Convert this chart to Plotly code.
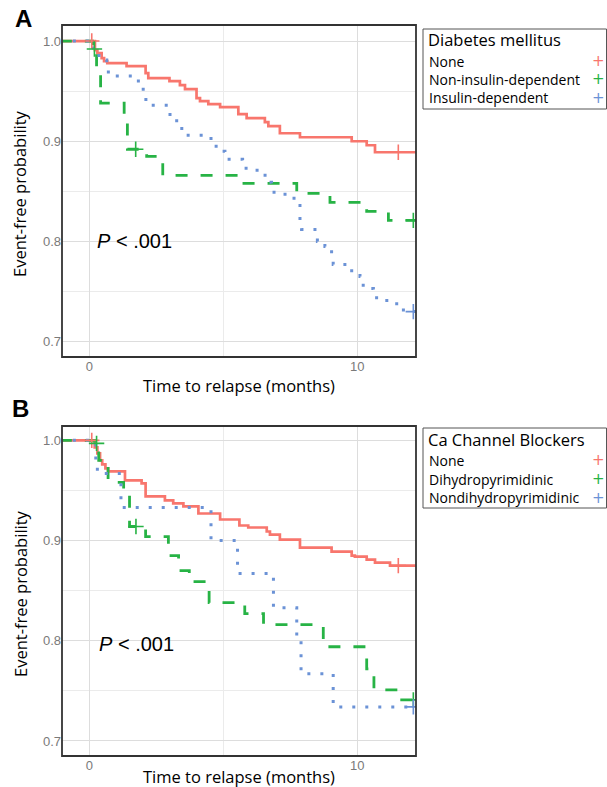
import plotly.graph_objects as go

# ---------------- data ----------------
# Panel A: Diabetes mellitus
A_none_t = [-1.1, 0.21, 0.30, 0.46, 0.55, 0.67, 1.39, 2.10, 2.20, 2.99, 3.38, 3.57, 4.00, 4.13, 4.44, 4.88,
            5.56, 5.87, 6.55, 6.68, 7.11, 7.86, 9.79, 10.35, 10.66, 12.3]
A_none_s = [1.0, 0.991, 0.988, 0.983, 0.980, 0.978, 0.975, 0.968, 0.963, 0.960, 0.956, 0.952, 0.943, 0.940,
            0.937, 0.934, 0.927, 0.923, 0.919, 0.915, 0.908, 0.904, 0.900, 0.896, 0.889, 0.889]
A_none_ct = [0.09, 11.53]
A_none_cs = [1.0, 0.889]

A_nid_t = [-1.1, 0.12, 0.27, 0.42, 1.30, 1.42, 2.14, 2.74, 5.62, 7.74, 8.98, 10.35, 11.16, 12.3]
A_nid_s = [1.0, 0.992, 0.972, 0.938, 0.920, 0.892, 0.885, 0.866, 0.858, 0.848, 0.839, 0.830, 0.821, 0.821]
A_nid_ct = [0.19, 1.73, 12.09]
A_nid_cs = [0.992, 0.892, 0.821]

A_id_t = [-1.1, 0.15, 0.36, 0.65, 0.71, 1.83, 2.01, 2.11, 3.01, 3.26, 3.45, 4.54, 4.88, 5.06, 5.72, 6.12,
          6.43, 6.68, 6.80, 7.24, 7.55, 7.80, 7.86, 7.92, 8.51, 8.79, 9.04, 9.10, 9.79, 10.10, 10.22, 10.60,
          10.72, 11.47, 11.72, 12.3]
A_id_s = [1.0, 0.990, 0.981, 0.977, 0.965, 0.958, 0.947, 0.936, 0.925, 0.917, 0.906, 0.895, 0.890, 0.882,
          0.873, 0.871, 0.866, 0.859, 0.849, 0.847, 0.843, 0.836, 0.823, 0.812, 0.800, 0.795, 0.788, 0.777,
          0.769, 0.765, 0.753, 0.751, 0.741, 0.734, 0.730, 0.730]
A_id_ct = [12.09]
A_id_cs = [0.730]

# Panel B: Ca channel blockers
B_none_t = [-1.1, 0.20, 0.30, 0.40, 0.48, 0.60, 0.70, 1.33, 1.95, 2.10, 2.82, 3.13, 3.51, 4.07, 4.88, 5.60,
            5.93, 6.62, 6.74, 7.11, 7.86, 9.04, 9.79, 9.91, 10.35, 10.66, 11.22, 12.3]
B_none_s = [1.0, 0.993, 0.987, 0.980, 0.976, 0.972, 0.969, 0.960, 0.957, 0.944, 0.940, 0.937, 0.934, 0.927,
            0.921, 0.915, 0.913, 0.909, 0.906, 0.901, 0.893, 0.889, 0.885, 0.884, 0.881, 0.878, 0.875, 0.875]
B_none_ct = [0.09, 11.53]
B_none_cs = [1.0, 0.875]

B_dhp_t = [-1.1, 0.20, 0.35, 0.70, 1.28, 1.50, 2.10, 2.95, 3.33, 3.73, 4.47, 5.80, 6.50, 8.73, 10.35, 10.62,
           11.50, 12.3]
B_dhp_s = [1.0, 0.997, 0.980, 0.958, 0.948, 0.914, 0.904, 0.885, 0.870, 0.859, 0.838, 0.827, 0.816, 0.794,
           0.772, 0.751, 0.741, 0.741]
B_dhp_ct = [0.27, 1.74, 12.09]
B_dhp_cs = [0.997, 0.914, 0.741]

B_ndhp_t = [-1.1, 0.24, 0.30, 1.18, 4.54, 5.53, 6.87, 7.74, 7.90, 9.10, 12.3]
B_ndhp_s = [1.0, 0.978, 0.967, 0.933, 0.900, 0.867, 0.833, 0.800, 0.767, 0.734, 0.734]
B_ndhp_ct = [12.09]
B_ndhp_cs = [0.734]

A_labels = ["None", "Non-insulin-dependent", "Insulin-dependent"]
B_labels = ["None", "Dihydropyrimidinic", "Nondihydropyrimidinic"]
A_title = "Diabetes mellitus"
B_title = "Ca Channel Blockers"
x_title = "Time to relapse (months)"
y_title = "Event-free probability"
p_text = "<i>P</i> < .001"

# ---------------- styling ----------------
W, H = 607, 787
COLORS = ["#F8766D", "#27B345", "#6B92D6"]
DASHES = ["solid", "12px,13px", "3px,10px"]
WIDTHS = [2.7, 2.8, 3.0]
TITLE_FONT = "Open Sans"
TICK_FONT = "Liberation Sans, Arial"

def px(x):
    return x / W

def py(y):
    return 1 - y / H

fig = go.Figure()

panels = [
    ("x", "y", [(A_none_t, A_none_s, A_none_ct, A_none_cs),
                (A_nid_t, A_nid_s, A_nid_ct, A_nid_cs),
                (A_id_t, A_id_s, A_id_ct, A_id_cs)]),
    ("x2", "y2", [(B_none_t, B_none_s, B_none_ct, B_none_cs),
                  (B_dhp_t, B_dhp_s, B_dhp_ct, B_dhp_cs),
                  (B_ndhp_t, B_ndhp_s, B_ndhp_ct, B_ndhp_cs)]),
]

for xa, ya, series in panels:
    for i, (t, s, ct, cs) in enumerate(series):
        fig.add_trace(go.Scatter(
            x=t, y=s, mode="lines", xaxis=xa, yaxis=ya,
            line=dict(color=COLORS[i], width=WIDTHS[i], dash=DASHES[i], shape="hv"),
            showlegend=False, hoverinfo="skip"))
    for i, (t, s, ct, cs) in enumerate(series):
        fig.add_trace(go.Scatter(
            x=ct, y=cs, mode="markers", xaxis=xa, yaxis=ya,
            marker=dict(symbol="cross-thin", size=11, line=dict(color=COLORS[i], width=1.6)),
            showlegend=False, hoverinfo="skip"))

# plot areas (pixels)
A_box = (62, 416, 25, 357)
B_box = (62, 416, 426, 756)

xr = [-1.02, 12.19]
axis_common = dict(
    showgrid=True, gridcolor="#DDDDDD", gridwidth=1.1, zeroline=False, showline=False,
    ticks="", tickfont=dict(family=TICK_FONT, size=13, color="#7A7A7A"), automargin=False,
)

fig.update_layout(
    width=W, height=H, margin=dict(l=0, r=0, t=0, b=0),
    paper_bgcolor="white", plot_bgcolor="white", showlegend=False,
    xaxis=dict(domain=[px(A_box[0]), px(A_box[1])], range=xr, anchor="y",
               tick0=0, dtick=10, minor=dict(dtick=5, showgrid=True, gridcolor="#EBEBEB", gridwidth=0.8),
               **axis_common),
    yaxis=dict(domain=[py(A_box[3]), py(A_box[2])], range=[0.6847, 1.016], anchor="x",
               tick0=0, dtick=0.1, tickformat=".1f",
               minor=dict(dtick=0.05, tick0=0, showgrid=True, gridcolor="#EBEBEB", gridwidth=0.8),
               **axis_common),
    xaxis2=dict(domain=[px(B_box[0]), px(B_box[1])], range=xr, anchor="y2",
                tick0=0, dtick=10, minor=dict(dtick=5, showgrid=True, gridcolor="#EBEBEB", gridwidth=0.8),
                **axis_common),
    yaxis2=dict(domain=[py(B_box[3]), py(B_box[2])], range=[0.685, 1.0143], anchor="x2",
                tick0=0, dtick=0.1, tickformat=".1f",
                minor=dict(dtick=0.05, tick0=0, showgrid=True, gridcolor="#EBEBEB", gridwidth=0.8),
                **axis_common),
)

shapes = []
annotations = []

for (xa, ya) in [("x", "y"), ("x2", "y2")]:
    shapes.append(dict(type="rect", xref=f"{xa} domain", yref=f"{ya} domain", x0=0, x1=1, y0=0, y1=1,
                       line=dict(color="#333333", width=1.8), fillcolor="rgba(0,0,0,0)", layer="above"))

def ann(text, x, y, size, family=TITLE_FONT, color="black", xanchor="center", **kw):
    annotations.append(dict(text=text, x=px(x), y=py(y), xref="paper", yref="paper",
                            xanchor=xanchor, yanchor="middle", showarrow=False,
                            font=dict(family=family, size=size, color=color), **kw))

# panel letters
ann("<b>A</b>", 24, 18.5, 24, family="Liberation Sans, Arial")
ann("<b>B</b>", 20, 408.5, 24, family="Liberation Sans, Arial")

# axis titles
for (box, xt_y) in [(A_box, 385), (B_box, 776)]:
    ann(x_title, (box[0] + box[1]) / 2, xt_y, 16.5)
    ann(y_title, 20, (box[2] + box[3]) / 2 + 3, 16.5, textangle=-90)

# p-values
annotations.append(dict(text=p_text, x=0.2, y=0.8, xref="x", yref="y", xanchor="left", yanchor="middle",
                        showarrow=False, font=dict(family="Liberation Sans, Arial", size=20, color="black")))
annotations.append(dict(text=p_text, x=0.3, y=0.797, xref="x2", yref="y2", xanchor="left", yanchor="middle",
                        showarrow=False, font=dict(family="Liberation Sans, Arial", size=20, color="black")))

# custom legends
legends = [
    (A_title, A_labels, (423, 606.5, 29, 109), 40, [61, 79.5, 97.5]),
    (B_title, B_labels, (423, 606.5, 428, 508), 439.5, [460, 479, 497.5]),
]
for title, labels, (x0, x1, y0, y1), ty, iys in legends:
    shapes.append(dict(type="rect", xref="paper", yref="paper", x0=px(x0), x1=px(x1), y0=py(y1), y1=py(y0),
                       line=dict(color="#555555", width=1), fillcolor="white"))
    ann(title, 426, ty, 16.5, xanchor="left")
    for i, (lab, iy) in enumerate(zip(labels, iys)):
        ann(lab, 427, iy, 14, xanchor="left")
        ann("+", 598, iy, 15, family="DejaVu Sans", color=COLORS[i])

fig.update_layout(shapes=shapes, annotations=annotations)
fig.write_html("out.html", config={"displayModeBar": False},
               post_script="document.body.style.margin='0px';document.body.style.overflow='hidden';")
